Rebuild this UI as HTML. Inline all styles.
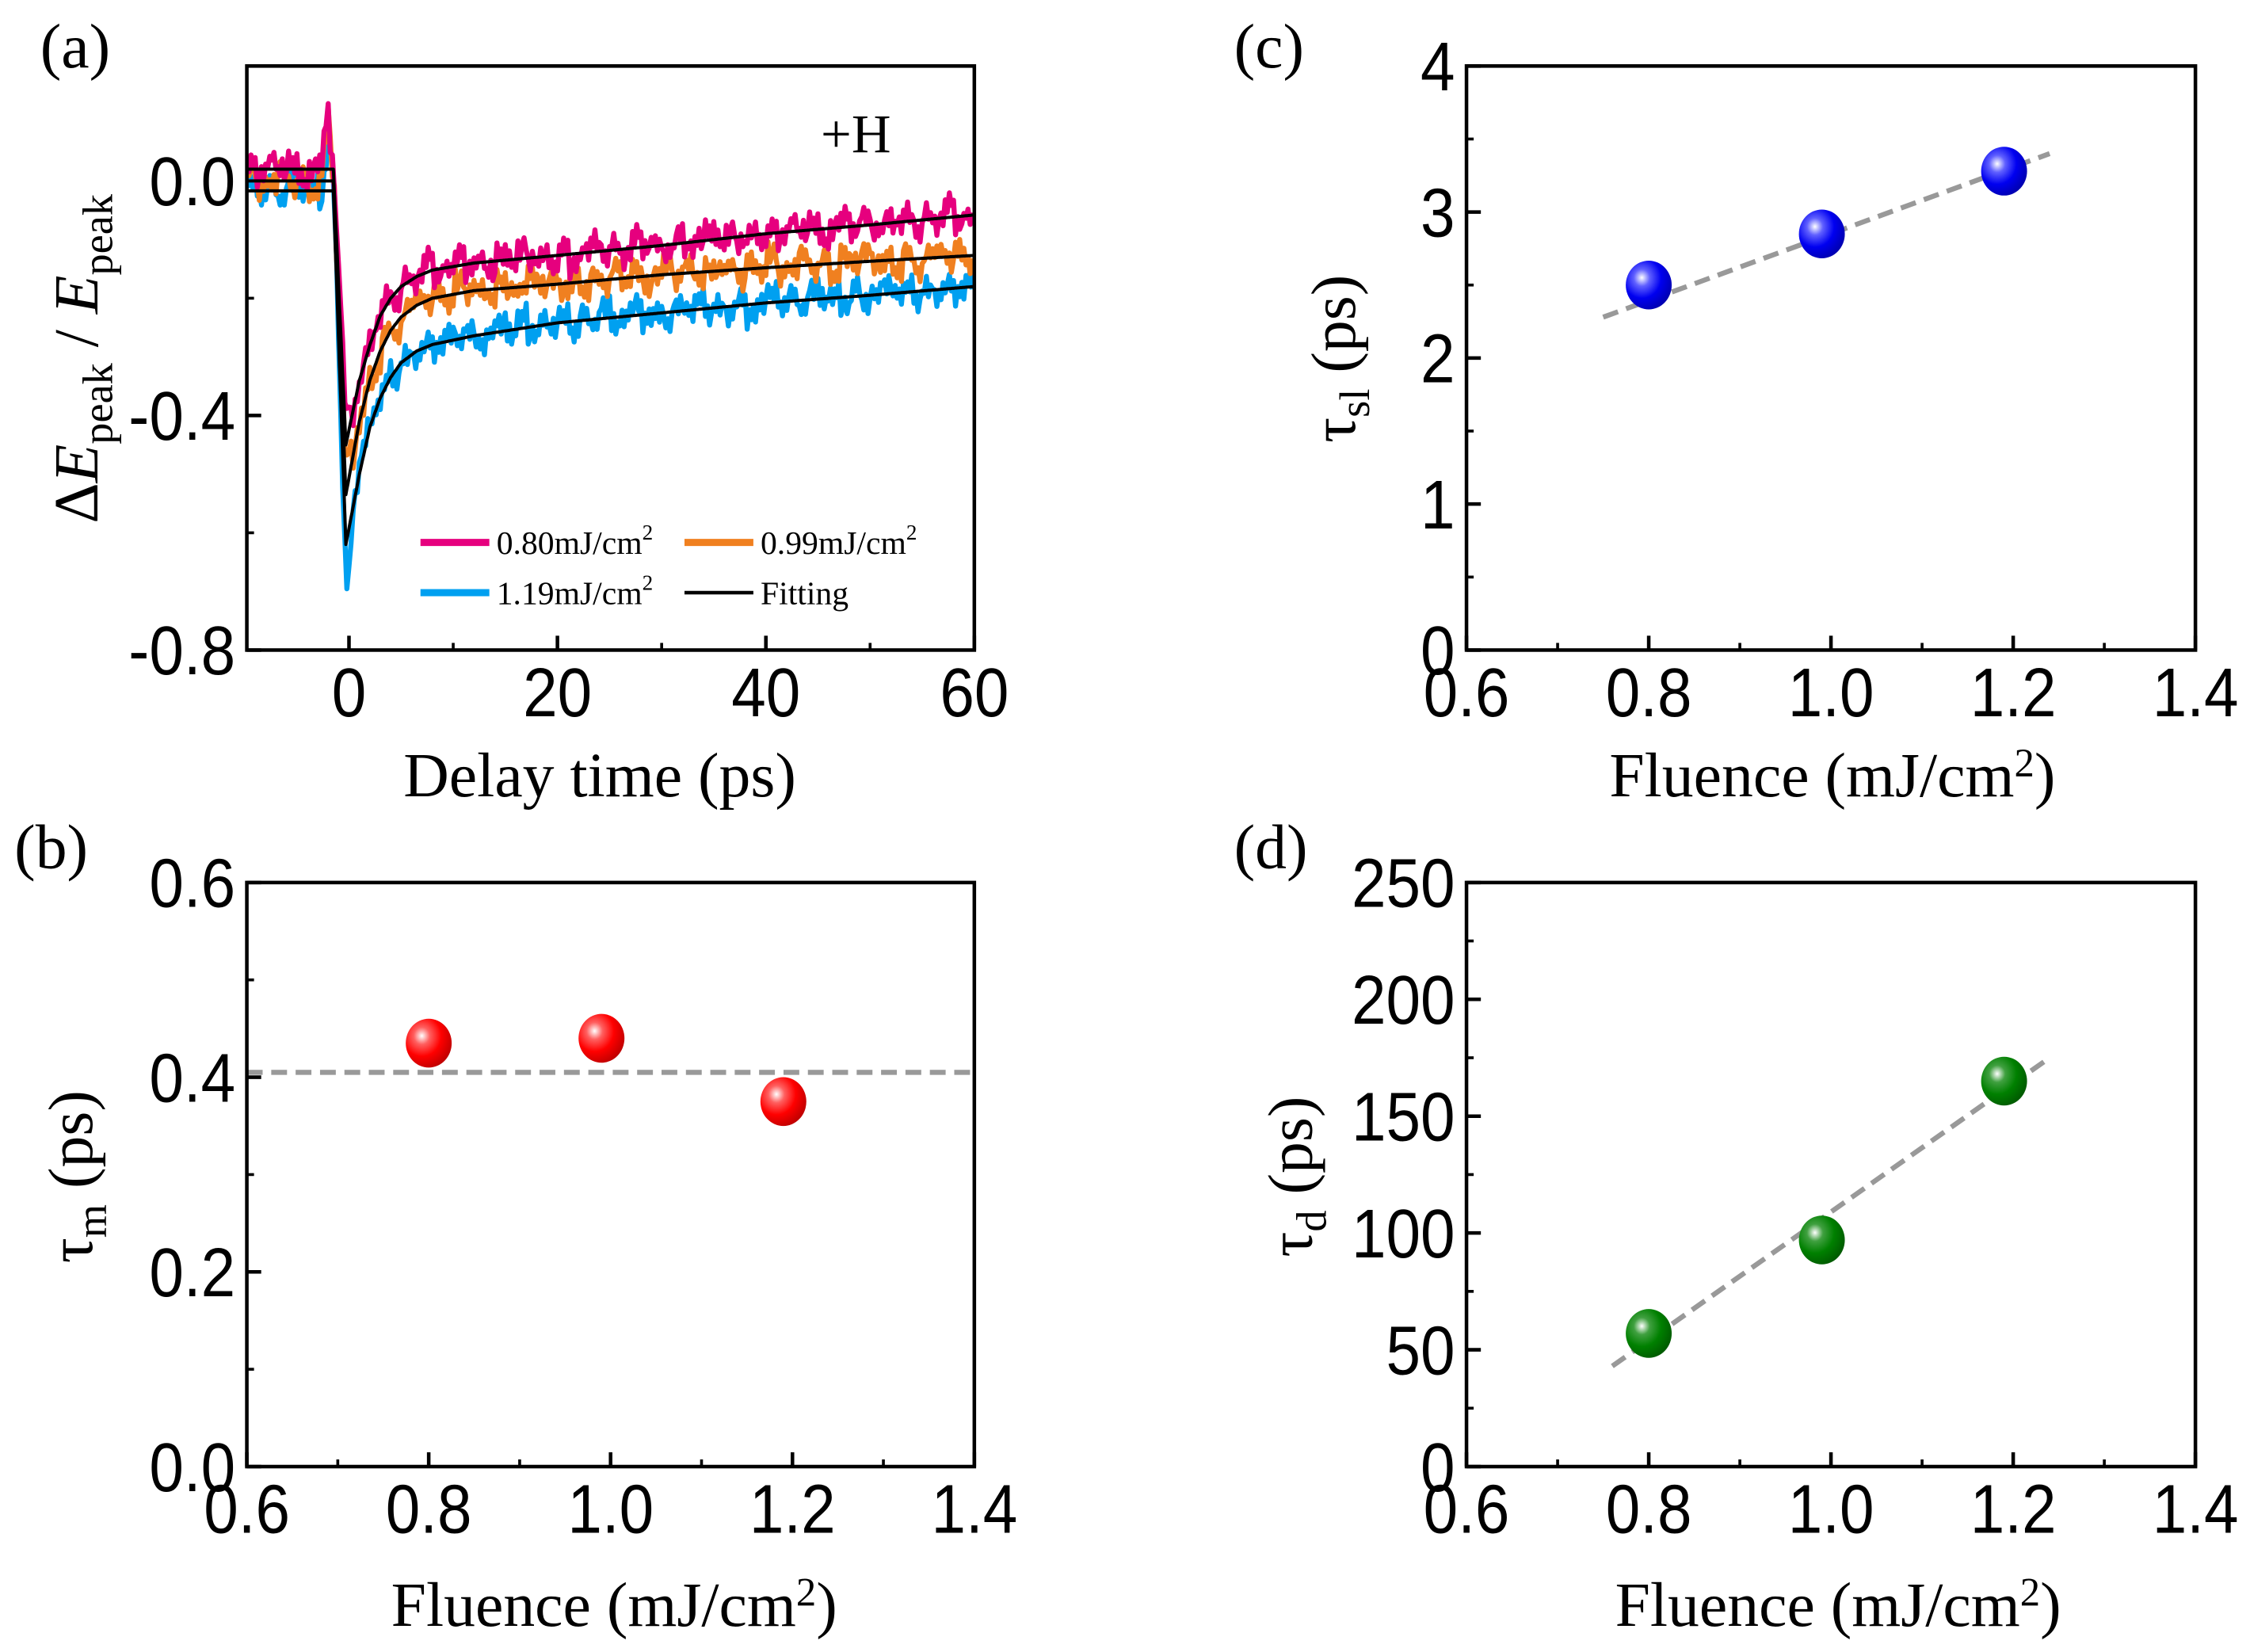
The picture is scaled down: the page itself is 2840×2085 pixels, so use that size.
<!DOCTYPE html>
<html><head><meta charset="utf-8"><style>
html,body{margin:0;padding:0;background:#fff;}
svg{display:block;}
.tk{font-family:"Liberation Sans",Arial,sans-serif;font-size:48px;fill:#000;}
.ser{font-family:"Liberation Serif","Times New Roman",serif;fill:#000;}
</style></head><body>
<svg id="fig" width="2840" height="2085" viewBox="0 0 1568 1151.2" xmlns="http://www.w3.org/2000/svg">
<defs>
<radialGradient id="gRed" cx="0.35" cy="0.35" r="0.7"><stop offset="0" stop-color="#fff"/><stop offset="0.25" stop-color="#ff6060"/><stop offset="0.6" stop-color="#f00"/><stop offset="1" stop-color="#c00000"/></radialGradient>
<radialGradient id="gBlue" cx="0.35" cy="0.35" r="0.7"><stop offset="0" stop-color="#fff"/><stop offset="0.25" stop-color="#6060ff"/><stop offset="0.6" stop-color="#0000f0"/><stop offset="1" stop-color="#0000b0"/></radialGradient>
<radialGradient id="gGreen" cx="0.35" cy="0.35" r="0.7"><stop offset="0" stop-color="#fff"/><stop offset="0.25" stop-color="#40a040"/><stop offset="0.6" stop-color="#008000"/><stop offset="1" stop-color="#005a00"/></radialGradient>
</defs>
<text class="ser" x="28" y="47" font-size="44">(a)</text>
<text class="ser" x="10" y="605" font-size="44">(b)</text>
<text class="ser" x="860" y="47" font-size="44">(c)</text>
<text class="ser" x="860" y="605" font-size="44">(d)</text>
<g id="pa"></g>
<g id="pb"></g>
<g id="pc"></g>
<g id="pd"></g>
<text class="ser" x="418" y="555" font-size="44" text-anchor="middle">Delay time (ps)</text>
<text class="ser" transform="translate(68,250) rotate(-90)" font-size="44" text-anchor="middle">Δ<tspan font-style="italic">E</tspan><tspan font-size="30" dy="10">peak</tspan><tspan dy="-10"> / </tspan><tspan font-style="italic">E</tspan><tspan font-size="30" dy="10">peak</tspan></text>
<text class="ser" x="572" y="106" font-size="38">+H</text>
<text class="ser" x="428" y="1133" font-size="44" text-anchor="middle">Fluence (mJ/cm<tspan font-size="28" dy="-14">2</tspan><tspan dy="14">)</tspan></text>
<text class="ser" x="1277" y="555" font-size="44" text-anchor="middle">Fluence (mJ/cm<tspan font-size="28" dy="-14">2</tspan><tspan dy="14">)</tspan></text>
<text class="ser" x="1281" y="1133" font-size="44" text-anchor="middle">Fluence (mJ/cm<tspan font-size="28" dy="-14">2</tspan><tspan dy="14">)</tspan></text>
<text class="ser" transform="translate(64,820) rotate(-90)" font-size="44" text-anchor="middle">τ<tspan font-size="30" dy="10">m</tspan><tspan dy="-10"> (ps)</tspan></text>
<text class="ser" transform="translate(944,250) rotate(-90)" font-size="44" text-anchor="middle">τ<tspan font-size="30" dy="10">sl</tspan><tspan dy="-10"> (ps)</tspan></text>
<text class="ser" transform="translate(914,820) rotate(-90)" font-size="44" text-anchor="middle">τ<tspan font-size="30" dy="10">d</tspan><tspan dy="-10"> (ps)</tspan></text>
</svg>
<script>
const NS="http://www.w3.org/2000/svg";
// ---- panel (a) data ----
const fitTimes=[-10,-1.5,-0.3,1,2,3,4,5,6.5,8,12,20,30,40,50,60];
const fitPink=[0.02,0.02,-0.45,-0.34,-0.28,-0.23,-0.2,-0.18,-0.163,-0.152,-0.14,-0.127,-0.11,-0.09,-0.075,-0.058];
const fitOrange=[0,0,-0.535,-0.41,-0.34,-0.29,-0.255,-0.232,-0.212,-0.2,-0.187,-0.176,-0.16,-0.148,-0.137,-0.127];
const fitBlue=[-0.017,-0.017,-0.62,-0.5,-0.42,-0.37,-0.335,-0.31,-0.29,-0.279,-0.264,-0.242,-0.225,-0.208,-0.195,-0.18];
const spikeTimes=[-2.6,-2.0,-1.6,-0.1];
const spikePink=[0,0.09,0.02,0.03];
const spikeOrange=[0,0.11,0.02,0.03];
const spikeBlue=[0,0.1,0.03,-0.06];
const jitter=[0.3,-0.5,0.8,-0.2,0.6,-0.9,0.1,0.7,-0.4,0.9,-0.7,0.2,-0.1,0.5,-0.8,0.4,-0.3,1.0,-0.6,0.0,0.8,-0.5,0.3,-0.9,0.6,-0.2,0.9,-0.4,0.1,-0.7,0.5,-1.0,0.2,0.7,-0.3,0.4,-0.6,0.9,-0.1,0.3,-0.8,0.6,-0.4,0.0,0.8,-0.2,0.5,-0.7,0.2,-0.5];
const aXTicks=[0,20,40,60], aYTicks=[0.0,-0.4,-0.8];
// ---- panels b,c,d data ----
const fluence=[0.8,0.99,1.19];
const tauM=[0.435,0.44,0.375];
const tauSl=[2.5,2.85,3.28];
const tauD=[57,97,165];
const fitM=[[0.6,0.405],[1.4,0.405]];
const fitSl=[[0.75,2.28],[1.24,3.4]];
const fitD=[[0.76,43],[1.24,175]];
const fXTicks=[0.6,0.8,1.0,1.2,1.4];
const bYTicks=[0.0,0.2,0.4,0.6], cYTicks=[0,1,2,3,4], dYTicks=[0,50,100,150,200,250];

function el(tag,attrs,parent){const e=document.createElementNS(NS,tag);for(const k in attrs)e.setAttribute(k,attrs[k]);parent.appendChild(e);return e;}
function interp(xs,ys,x){if(x<=xs[0])return ys[0];for(let i=1;i<xs.length;i++){if(x<=xs[i]){const f=(x-xs[i-1])/(xs[i]-xs[i-1]);return ys[i-1]+f*(ys[i]-ys[i-1]);}}return ys[ys.length-1];}
function axes(g,box,xmin,xmax,ymin,ymax,xt,yt,xminor,yminor,xfmt,yfmt){
  const X=v=>box.l+(v-xmin)/(xmax-xmin)*(box.r-box.l);
  const Y=v=>box.b-(v-ymin)/(ymax-ymin)*(box.b-box.t);
  xminor.forEach(v=>{const t=el('line',{x1:X(v),x2:X(v),y1:box.b,y2:box.b-5,stroke:'#000','stroke-width':2},g);});
  yminor.forEach(v=>{const t=el('line',{x1:box.l,x2:box.l+5,y1:Y(v),y2:Y(v),stroke:'#000','stroke-width':2},g);});
  xt.forEach(v=>{const t=el('line',{x1:X(v),x2:X(v),y1:box.b,y2:box.b-10,stroke:'#000','stroke-width':2.5},g);
    const s=el('text',{x:0,y:0,'text-anchor':'middle',class:'tk',transform:'translate('+X(v)+','+(box.b+46)+') scale(0.9,1)'},g);s.textContent=xfmt(v);});
  yt.forEach(v=>{const t=el('line',{x1:box.l,x2:box.l+10,y1:Y(v),y2:Y(v),stroke:'#000','stroke-width':2.5},g);
    const s=el('text',{x:0,y:0,'text-anchor':'end',class:'tk',transform:'translate('+(box.l-8)+','+(Y(v)+17)+') scale(0.9,1)'},g);s.textContent=yfmt(v);});
  return {X,Y};
}
function frame(g,box){const r=el('rect',{x:box.l,y:box.t,width:box.r-box.l,height:box.b-box.t,fill:'none',stroke:'#000','stroke-width':2.5},g);}

// ---- panel a ----
(function(){
  const g=document.getElementById('pa');const box={l:172,r:679,t:46,b:453};
  const {X,Y}=axes(g,box,-9.8,60,-0.8,0.196,aXTicks,aYTicks,[10,30,50],[-0.2,-0.6],v=>String(v),v=>v.toFixed(1));
  const clip=el('clipPath',{id:'clipA'},g);el('rect',{x:box.l,y:box.t,width:box.r-box.l,height:box.b-box.t},clip);
  const data=[['pink-data-trace','#e6007e',fitPink,spikePink,0],['orange-data-trace','#f08020',fitOrange,spikeOrange,17],['blue-data-trace','#00a0f0',fitBlue,spikeBlue,33]];
  [2,1,0].forEach(i=>{const [nm,col,fit,sp,off]=data[i];let d='';let k=0;
    for(let t=-9.8;t<=60;t+=0.2){const j=jitter[(k+off)%jitter.length]*0.022+jitter[(Math.floor(k/5)+off)%jitter.length]*0.022;
      const spk=(t>-3&&t<0.2)?interp(spikeTimes,sp,t):0;
      const v=interp(fitTimes,fit,t)+spk+j;d+=(k?'L':'M')+X(t).toFixed(1)+','+Y(v).toFixed(1);k++;}
    const p=el('path',{d:d,fill:'none',stroke:col,'stroke-width':3.5,'stroke-linejoin':'round','clip-path':'url(#clipA)'},g);
    });
  [['fit-curve-pink',fitPink],['fit-curve-orange',fitOrange],['fit-curve-blue',fitBlue]].forEach(([nm,fit])=>{let d='';let k=0;
    for(let t=-9.8;t<=60;t+=0.1){d+=(k?'L':'M')+X(t).toFixed(1)+','+Y(interp(fitTimes,fit,t)).toFixed(1);k++;}
    const p=el('path',{d:d,fill:'none',stroke:'#000','stroke-width':2.2,'stroke-linejoin':'round'},g);});
  const leg=el('g',{},g);
  const items=[['#e6007e',293,378,'0.80mJ/cm',true],['#f08020',477,378,'0.99mJ/cm',true],['#00a0f0',293,413,'1.19mJ/cm',true],['#000',477,413,'Fitting',false]];
  items.forEach(([c,x,y,txt,sup])=>{const e=el('g',{},leg);
    el('line',{x1:x,x2:x+48,y1:y,y2:y,stroke:c,'stroke-width':c==='#000'?2.5:5},e);
    const t=el('text',{x:x+53,y:y+8,class:'ser','font-size':23},e);t.textContent=txt;
    if(sup){const s=el('tspan',{'font-size':15,dy:-10},t);s.textContent='2';}});
  frame(g,box);
})();

function scatterPanel(id,box,ymin,ymax,yt,yminor,yfmt,vals,fitLine,grad,nm){
  const g=document.getElementById(id);
  const {X,Y}=axes(g,box,0.6,1.4,ymin,ymax,fXTicks,yt,[0.7,0.9,1.1,1.3],yminor,v=>v.toFixed(1),yfmt);
  const fl=el('line',{x1:X(fitLine[0][0]),y1:Y(fitLine[0][1]),x2:X(fitLine[1][0]),y2:Y(fitLine[1][1]),stroke:'#999','stroke-width':3.5,'stroke-dasharray':'11,6'},g);
  
  fluence.forEach((f,i)=>{const c=el('ellipse',{cx:X(f),cy:Y(vals[i]),rx:16,ry:17,fill:'url(#'+grad+')'},g);
    });
  frame(g,box);
}
scatterPanel('pb',{l:172,r:679,t:615,b:1022},0,0.6,bYTicks,[0.1,0.3,0.5],v=>v.toFixed(1),tauM,fitM,'gRed','tau-m');
scatterPanel('pc',{l:1022,r:1530,t:46,b:453},0,4,cYTicks,[0.5,1.5,2.5,3.5],v=>String(v),tauSl,fitSl,'gBlue','tau-sl');
scatterPanel('pd',{l:1022,r:1530,t:615,b:1022},0,250,dYTicks,[25,75,125,175,225],v=>String(v),tauD,fitD,'gGreen','tau-d');
</script>
</body></html>
